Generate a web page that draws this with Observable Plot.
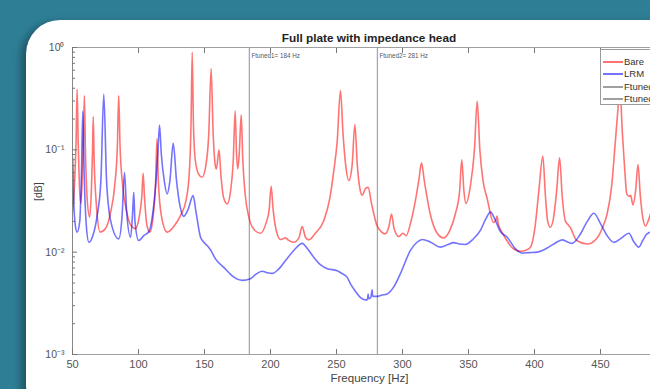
<!DOCTYPE html>
<html><head><meta charset="utf-8">
<script src="https://cdn.jsdelivr.net/npm/d3@7"></script>
<script src="https://cdn.jsdelivr.net/npm/@observablehq/plot@0.6"></script>
<style>
html,body{margin:0;padding:0;width:650px;height:389px;overflow:hidden;background:#2e7f96;font-family:"Liberation Sans",Arial,sans-serif;}
#card{position:absolute;left:26px;top:20px;width:720px;height:400px;background:#fff;border-radius:34px;box-shadow:-5px 3px 9px rgba(0,0,0,0.35);}
#chart{position:absolute;left:0;top:0;}
#title{position:absolute;left:72px;width:594px;top:31px;text-align:center;font-weight:bold;font-size:11.8px;color:#222;white-space:nowrap;}
#legend{position:absolute;left:600px;top:49px;width:90px;height:56px;background:#fff;border:1px solid #9a9a9a;box-sizing:border-box;font-size:9.5px;color:#333;}
#legend .row{position:absolute;left:0;height:12px;width:100%;}
#legend .sw{position:absolute;left:2px;width:20px;top:5px;height:2px;}
#legend .tx{position:absolute;left:23px;top:0;line-height:12px;white-space:nowrap;}
</style>
</head><body>
<div id="card"></div>
<div id="chart"></div>
<div id="title">Full plate with impedance head</div>
<div id="legend"></div>
<script>
const bare = [
[50,0.025],[51.5,0.045],[52.7,0.12],[53.5,0.39],[54.3,0.12],[55.2,0.045],[56.2,0.03],[57.2,0.045],[58.2,0.12],[59,0.34],[59.8,0.1],[61,0.035],[63,0.022],[64.3,0.04],[65.1,0.09],[65.7,0.21],[66.4,0.08],[68,0.03],[71,0.0157],[75,0.017],[79,0.025],[82,0.045],[84,0.11],[85,0.34],[86,0.11],[88,0.045],[91,0.025],[94.5,0.018],[97.7,0.017],[100.5,0.022],[102.5,0.035],[103.5,0.059],[104.5,0.035],[106.5,0.018],[108.6,0.0157],[111,0.022],[113,0.05],[114,0.128],[115,0.05],[117.5,0.022],[121.7,0.0157],[127,0.018],[132,0.023],[136,0.032],[138.5,0.06],[139.8,0.18],[140.7,0.9],[141.6,0.18],[143,0.08],[145.5,0.058],[148.2,0.054],[151,0.07],[153.2,0.14],[155,0.62],[156.6,0.14],[158.2,0.07],[159,0.065],[161,0.10],[162.5,0.055],[164.5,0.034],[167.2,0.0296],[169.8,0.04],[171.8,0.08],[173.2,0.24],[174.3,0.09],[175.2,0.065],[176.3,0.09],[177.8,0.22],[179,0.08],[181,0.035],[183.6,0.022],[187,0.017],[192.4,0.0153],[196.5,0.019],[199,0.026],[200.5,0.044],[202,0.026],[204.5,0.016],[207.6,0.0133],[209.8,0.0136],[211.4,0.0138],[213.5,0.0131],[217.7,0.0125],[221.5,0.0138],[224,0.0178],[226.5,0.014],[229,0.0132],[234,0.0153],[240.4,0.0204],[245,0.034],[247.7,0.059],[250.5,0.12],[253,0.38],[255,0.14],[257,0.07],[259.3,0.05],[261.8,0.07],[263.9,0.177],[265.8,0.07],[268,0.04],[269.5,0.036],[272,0.042],[274,0.043],[276.5,0.03],[280.8,0.018],[284,0.0158],[287,0.0151],[289.8,0.018],[291.7,0.0236],[293.6,0.017],[297.2,0.0142],[300.2,0.0153],[302.8,0.0145],[306,0.019],[309.8,0.032],[312.5,0.052],[314.4,0.0746],[316.5,0.05],[321,0.0236],[326,0.0155],[331.3,0.0138],[336,0.0165],[340,0.0236],[343.3,0.04],[344.9,0.080],[346.5,0.04],[348,0.030],[351.5,0.045],[354.5,0.10],[356.6,0.30],[358.6,0.10],[361,0.05],[364,0.034],[369,0.0195],[371,0.021],[371.7,0.0225],[372.5,0.019],[375,0.016],[379,0.013],[384,0.0108],[389.4,0.0102],[394,0.0105],[397,0.0112],[400.5,0.018],[403.3,0.04],[406.3,0.0865],[408.3,0.035],[410,0.02],[412,0.0175],[414.5,0.022],[416.8,0.04],[419,0.0835],[421,0.035],[423.5,0.02],[425.5,0.0185],[427,0.0175],[432,0.013],[440,0.012],[447,0.0135],[452,0.018],[455,0.0236],[458.5,0.045],[461,0.11],[463.2,0.25],[464.6,0.45],[466.5,0.15],[468.5,0.06],[469.9,0.037],[471.7,0.035],[472.8,0.036],[474.6,0.029],[476.6,0.04],[478.4,0.072],[480.2,0.035],[482,0.022],[484,0.018],[486,0.02],[488,0.024],[490,0.03],[495,0.05],[500,0.08]
];
const lrm = [
[50,0.085],[50.5,0.06],[51,0.03],[52.2,0.018],[53.5,0.0157],[55.5,0.02],[56.8,0.06],[57.8,0.24],[58.8,0.06],[60.5,0.018],[62.4,0.0125],[65,0.014],[68.5,0.022],[71.5,0.05],[73.7,0.35],[75.8,0.05],[79,0.02],[85,0.0135],[87.5,0.022],[89.4,0.060],[91,0.025],[94,0.014],[95.6,0.025],[96.4,0.0385],[97.3,0.02],[100.2,0.013],[104,0.0145],[108,0.016],[111,0.025],[113,0.045],[114.8,0.1],[115.9,0.175],[117.3,0.09],[119.5,0.05],[121.7,0.037],[123.8,0.05],[126.3,0.116],[128.8,0.05],[131.5,0.028],[134.3,0.0224],[137.5,0.026],[141.4,0.0357],[143.5,0.025],[147,0.014],[150,0.0123],[152,0.0116],[155,0.0103],[158.3,0.0086],[164.6,0.0071],[168.5,0.0063],[172.2,0.0057],[178.5,0.0053],[184.8,0.0055],[189,0.0061],[193.7,0.0065],[197.5,0.0063],[201.3,0.0062],[206,0.0068],[212,0.0085],[218,0.0105],[224,0.0122],[228,0.0108],[232.8,0.0089],[238,0.0075],[243,0.0069],[250.5,0.0066],[254,0.0062],[258,0.0057],[260.6,0.0049],[264,0.0042],[268.2,0.0036],[272.7,0.0034],[273.5,0.0035],[274,0.0039],[274.4,0.0035],[276,0.0036],[277,0.0043],[277.4,0.0037],[280.8,0.0037],[284,0.0038],[288.4,0.0039],[293,0.0045],[298.5,0.0062],[306,0.0104],[311,0.0125],[315,0.0133],[321,0.0126],[328.8,0.0112],[334,0.0118],[338.9,0.0124],[343,0.012],[347.7,0.0119],[353,0.0132],[359,0.0163],[363,0.021],[366.7,0.0246],[370,0.021],[374,0.016],[379.3,0.014],[385,0.011],[390.7,0.0098],[396,0.0099],[402,0.0100],[406,0.0104],[409.6,0.011],[415,0.0121],[421,0.0132],[425,0.0126],[428.5,0.0122],[434,0.0145],[440,0.02],[445,0.024],[450,0.019],[455,0.0145],[460,0.0125],[466,0.0138],[471.5,0.0153],[475,0.0128],[479,0.0112],[482,0.013],[485,0.015],[490,0.016],[500,0.017]
];
const tuned = [184, 281];
const tunedLabels = ["Ftuned1= 184 Hz", "Ftuned2= 281 Hz"];
const xTicks = [50, 100, 150, 200, 250, 300, 350, 400, 450, 500];
const yMajor = [1e-3, 1e-2, 1e-1, 1];
const yMajorLabels = ["10\u207B\u00B3", "10\u207B\u00B2", "10\u207B\u00B9", "10\u2070"];
const yMinor = [1e-3, 1e-2, 1e-1].flatMap(d => [2,3,4,5,6,7,8,9].map(m => m * d));
const legendItems = [
  {label: "Bare", color: "rgba(255,0,0,0.55)"},
  {label: "LRM", color: "rgba(0,0,255,0.55)"},
  {label: "Ftuned1= 184 Hz", color: "#a0a0a0"},
  {label: "Ftuned2= 281 Hz", color: "#a0a0a0"}
];

const tickColor = "#777";
const plot = Plot.plot({
  width: 700, height: 389,
  marginLeft: 72, marginRight: 34, marginTop: 47, marginBottom: 35,
  style: {background: "transparent", maxWidth: "none", overflow: "visible", fontFamily: "'Liberation Sans', Arial, sans-serif", fontSize: "11px", color: "#555"},
  x: {domain: [50, 500]},
  y: {type: "log", domain: [1e-3, 1]},
  marks: [
    Plot.ruleX(tuned, {stroke: "#a8a8a8", strokeWidth: 1.3}),
    Plot.text(tuned, {x: d => d, text: (d, i) => tunedLabels[i], frameAnchor: "top", dy: 6, dx: 2, textAnchor: "start", fontSize: 6.3, fill: "#555"}),
    Plot.line(bare, {x: d => d[0], y: d => d[1], curve: "monotone-x", stroke: "#ff0000", strokeOpacity: 0.55, strokeWidth: 1.6, clip: true}),
    Plot.line(lrm, {x: d => d[0], y: d => d[1], curve: "monotone-x", stroke: "#0000ff", strokeOpacity: 0.55, strokeWidth: 1.6, clip: true}),
    Plot.frame({stroke: "#a0a0a0"}),
    Plot.ruleX([50], {stroke: "#888"}),
    Plot.axisX({ticks: xTicks, tickSize: -5, tickFormat: () => "", stroke: tickColor, label: null}),
    Plot.axisX({anchor: "top", ticks: xTicks, tickSize: -5, tickFormat: () => "", stroke: tickColor, label: null}),
    Plot.axisX({ticks: xTicks.slice(0, -1), tickSize: 0, tickPadding: 6, tickFormat: d => String(d), label: null, fill: "#555"}),
    Plot.axisY({ticks: yMajor, tickSize: -5, tickFormat: () => "", stroke: tickColor, label: null}),
    Plot.axisY({ticks: yMinor, tickSize: -3, tickFormat: () => "", stroke: tickColor, label: null}),
    Plot.axisY({ticks: yMajor, tickSize: 0, tickPadding: 8, tickFormat: (d) => yMajorLabels[yMajor.indexOf(d)], label: null, fill: "#555", fontSize: 10.5}),
    Plot.text(["[dB]"], {frameAnchor: "left", dx: -34, rotate: -90, fontSize: 10.5, fill: "#444"}),
    Plot.text(["Frequency [Hz]"], {frameAnchor: "bottom", dy: 27, fontSize: 11.5, fill: "#444"})
  ]
});
document.getElementById("chart").appendChild(plot);

const leg = document.getElementById("legend");
const rowTops = [5.5, 18, 30.5, 43];
legendItems.forEach((it, i) => {
  const r = document.createElement("div");
  r.className = "row";
  r.style.top = rowTops[i] + "px";
  r.innerHTML = `<span class="sw" style="background:${it.color}"></span><span class="tx">${it.label}</span>`;
  leg.appendChild(r);
});
</script>
</body></html>
